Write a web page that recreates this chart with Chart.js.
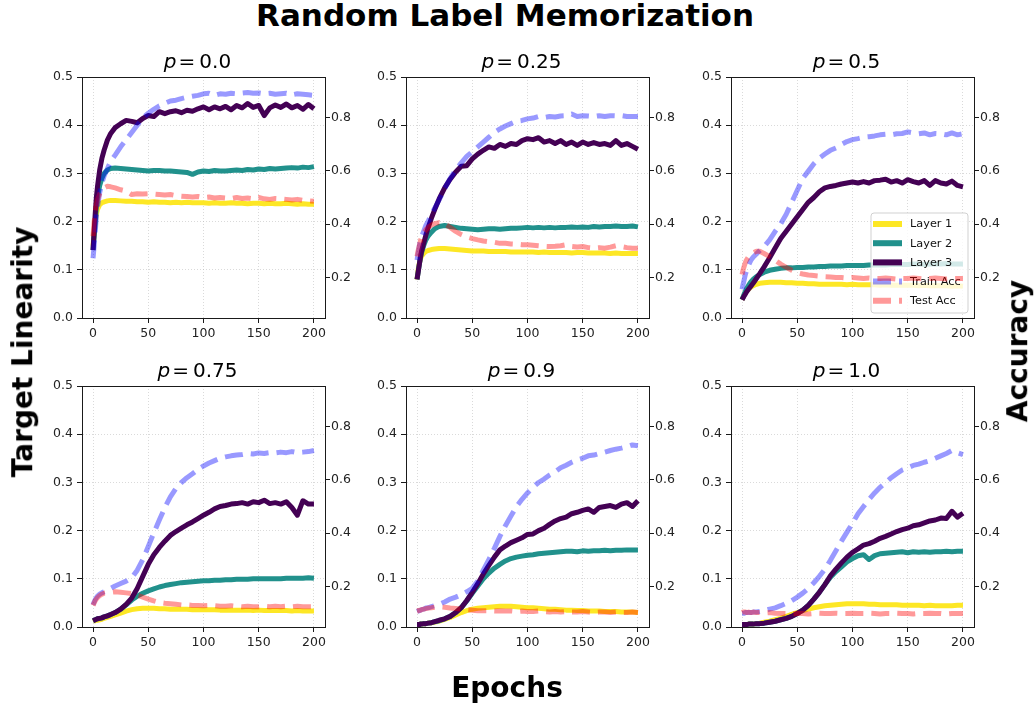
<!DOCTYPE html>
<html>
<head>
<meta charset="utf-8">
<script src="https://cdn.jsdelivr.net/npm/chart.js@4.4.1/dist/chart.umd.min.js"></script>
<style>
  body { margin: 0; background: #fff; }
  #fig { position: relative; width: 1035px; height: 706px; overflow: hidden; font-family: 'DejaVu Sans', sans-serif; color: #000; }
  #fig canvas { position: absolute; }
  .txt { position: absolute; white-space: nowrap; line-height: 1.2; }
  .big { font-size: 28px; font-weight: bold; }
  .sub { font-size: 20px; transform: translateX(-50%); }
  .rot { transform: translate(-50%, -50%) rotate(-90deg); }
</style>
</head>
<body>
<div id="fig">
  <div class="txt" style="font-size:31px;font-weight:bold;left:505px;top:-3px;transform:translateX(-50%)">Random Label Memorization</div>
  <div class="txt big" style="left:507px;top:670.5px;transform:translateX(-50%)">Epochs</div>
  <div class="txt big rot" style="left:23.3px;top:351.5px">Target Linearity</div>
  <div class="txt big rot" style="left:1018.3px;top:351px">Accuracy</div>
</div>
<script>
// x positions of the logged epochs
var epochs = [0,1,2,3,4,6,8,10,13,16,20,
  25,30,35,40,45,50,55,60,65,70,75,80,
  85,90,95,100,105,110,115,120,125,130,135,140,
  145,150,155,160,165,170,175,180,185,190,195,200];

var pLabels = ['0.0', '0.25', '0.5', '0.75', '0.9', '1.0'];
var seriesNames = ['Layer 1', 'Layer 2', 'Layer 3', 'Train Acc', 'Test Acc'];
var linTicks = [0, 0.1, 0.2, 0.3, 0.4, 0.5];
var accTicks = [0.2, 0.4, 0.6, 0.8];
var epochTicks = [0, 50, 100, 150, 200];

// p = 0.0
var l1_p00 = [0.150,0.175,0.200,0.215,0.225,0.235,0.239,0.241,0.243,0.244,0.244,
  0.243,0.242,0.242,0.241,0.241,0.240,0.241,0.240,0.240,0.239,0.240,0.239,
  0.240,0.239,0.239,0.239,0.238,0.239,0.238,0.238,0.239,0.238,0.238,0.237,
  0.238,0.238,0.237,0.238,0.237,0.237,0.238,0.237,0.236,0.237,0.236,0.236];
var l2_p00 = [0.141,0.170,0.200,0.230,0.250,0.275,0.290,0.300,0.307,0.310,0.311,
  0.310,0.309,0.308,0.307,0.306,0.305,0.306,0.306,0.305,0.305,0.304,0.303,
  0.302,0.298,0.303,0.305,0.304,0.306,0.305,0.305,0.306,0.307,0.306,0.308,
  0.307,0.309,0.308,0.310,0.309,0.310,0.311,0.312,0.311,0.313,0.312,0.314];
var l3_p00 = [0.141,0.180,0.217,0.250,0.272,0.307,0.331,0.348,0.369,0.383,0.395,
  0.403,0.410,0.408,0.405,0.414,0.420,0.418,0.428,0.424,0.428,0.430,0.426,
  0.431,0.429,0.434,0.438,0.432,0.438,0.434,0.439,0.432,0.441,0.436,0.445,
  0.437,0.441,0.420,0.436,0.442,0.437,0.444,0.436,0.441,0.433,0.443,0.434];
var train_p00 = [0.272,0.319,0.373,0.428,0.464,0.518,0.554,0.581,0.608,0.636,0.659,
  0.690,0.717,0.744,0.771,0.798,0.816,0.831,0.844,0.853,0.862,0.865,0.871,
  0.876,0.880,0.883,0.889,0.891,0.883,0.889,0.887,0.891,0.889,0.892,0.894,
  0.891,0.892,0.889,0.891,0.887,0.889,0.891,0.885,0.889,0.887,0.885,0.883];
var test_p00 = [0.355,0.410,0.446,0.473,0.491,0.514,0.527,0.536,0.542,0.540,0.536,
  0.529,0.524,0.511,0.514,0.513,0.514,0.513,0.511,0.509,0.511,0.507,0.505,
  0.504,0.502,0.504,0.500,0.502,0.498,0.500,0.498,0.496,0.500,0.496,0.498,
  0.495,0.500,0.495,0.493,0.496,0.495,0.493,0.491,0.493,0.489,0.487,0.486];

// p = 0.25
var l1_p25 = [0.080,0.100,0.113,0.122,0.128,0.134,0.138,0.140,0.142,0.143,0.144,
  0.144,0.143,0.142,0.141,0.140,0.139,0.139,0.139,0.138,0.138,0.138,0.138,
  0.137,0.137,0.137,0.137,0.137,0.136,0.137,0.136,0.136,0.136,0.136,0.135,
  0.136,0.136,0.135,0.135,0.135,0.135,0.134,0.135,0.134,0.134,0.134,0.134];
var l2_p25 = [0.080,0.095,0.110,0.124,0.135,0.150,0.162,0.170,0.178,0.185,0.190,
  0.192,0.190,0.188,0.186,0.185,0.184,0.183,0.184,0.185,0.185,0.184,0.185,
  0.186,0.186,0.187,0.188,0.187,0.188,0.187,0.188,0.187,0.188,0.188,0.189,
  0.188,0.189,0.188,0.190,0.189,0.190,0.190,0.191,0.190,0.190,0.191,0.189];
var l3_p25 = [0.080,0.095,0.110,0.125,0.138,0.155,0.172,0.187,0.207,0.225,0.247,
  0.270,0.288,0.303,0.315,0.316,0.330,0.340,0.348,0.355,0.352,0.360,0.356,
  0.362,0.360,0.368,0.372,0.370,0.374,0.365,0.368,0.362,0.368,0.360,0.365,
  0.358,0.365,0.360,0.364,0.360,0.362,0.358,0.368,0.358,0.362,0.356,0.350];
var train_p25 = [0.265,0.292,0.316,0.337,0.352,0.373,0.395,0.410,0.437,0.460,0.491,
  0.533,0.572,0.603,0.630,0.654,0.672,0.690,0.708,0.726,0.744,0.757,0.768,
  0.777,0.786,0.789,0.795,0.798,0.804,0.800,0.804,0.802,0.806,0.807,0.813,
  0.804,0.807,0.806,0.804,0.807,0.804,0.807,0.806,0.807,0.804,0.804,0.804];
var test_p25 = [0.279,0.301,0.319,0.337,0.350,0.366,0.379,0.388,0.397,0.402,0.406,
  0.401,0.388,0.373,0.361,0.352,0.346,0.341,0.337,0.334,0.332,0.328,0.328,
  0.326,0.325,0.323,0.323,0.321,0.319,0.317,0.316,0.317,0.319,0.323,0.316,
  0.314,0.316,0.312,0.310,0.312,0.310,0.314,0.319,0.316,0.312,0.310,0.310];

// p = 0.5
var l1_p50 = [0.038,0.043,0.048,0.052,0.055,0.060,0.064,0.067,0.070,0.072,0.073,
  0.074,0.074,0.074,0.073,0.073,0.072,0.072,0.071,0.071,0.070,0.070,0.070,
  0.070,0.070,0.069,0.070,0.069,0.069,0.069,0.069,0.068,0.069,0.068,0.068,
  0.068,0.068,0.068,0.067,0.068,0.067,0.067,0.067,0.067,0.066,0.067,0.066];
var l2_p50 = [0.038,0.044,0.050,0.055,0.060,0.068,0.075,0.080,0.086,0.090,0.095,
  0.099,0.101,0.103,0.104,0.104,0.105,0.105,0.106,0.106,0.107,0.107,0.108,
  0.108,0.108,0.109,0.109,0.109,0.109,0.110,0.110,0.110,0.110,0.111,0.111,
  0.111,0.111,0.112,0.112,0.111,0.112,0.112,0.112,0.113,0.112,0.112,0.112];
var l3_p50 = [0.038,0.042,0.046,0.050,0.054,0.060,0.066,0.072,0.082,0.092,0.106,
  0.125,0.145,0.165,0.180,0.195,0.210,0.225,0.240,0.250,0.262,0.270,0.273,
  0.275,0.278,0.280,0.282,0.280,0.283,0.280,0.285,0.286,0.288,0.282,0.285,
  0.280,0.287,0.283,0.280,0.285,0.275,0.285,0.280,0.278,0.284,0.275,0.272];
var train_p50 = [0.156,0.175,0.193,0.211,0.225,0.247,0.265,0.276,0.288,0.301,0.316,
  0.341,0.373,0.401,0.437,0.482,0.527,0.572,0.599,0.627,0.648,0.663,0.677,
  0.686,0.699,0.710,0.717,0.721,0.726,0.728,0.731,0.735,0.737,0.735,0.739,
  0.740,0.746,0.742,0.739,0.742,0.735,0.740,0.739,0.735,0.742,0.735,0.739];
var test_p50 = [0.211,0.229,0.243,0.256,0.265,0.278,0.287,0.292,0.298,0.298,0.290,
  0.278,0.265,0.250,0.238,0.227,0.218,0.213,0.209,0.207,0.205,0.203,0.202,
  0.200,0.200,0.198,0.200,0.198,0.196,0.198,0.196,0.196,0.198,0.196,0.194,
  0.196,0.196,0.198,0.196,0.194,0.196,0.198,0.196,0.194,0.196,0.196,0.196];

// p = 0.75
var l1_p75 = [0.012,0.013,0.013,0.014,0.014,0.015,0.016,0.018,0.020,0.022,0.025,
  0.029,0.033,0.036,0.038,0.039,0.039,0.039,0.038,0.038,0.037,0.037,0.037,
  0.037,0.036,0.036,0.036,0.036,0.036,0.035,0.035,0.035,0.035,0.035,0.035,
  0.034,0.035,0.034,0.034,0.034,0.034,0.034,0.033,0.034,0.033,0.033,0.033];
var l2_p75 = [0.013,0.014,0.015,0.016,0.017,0.018,0.019,0.021,0.023,0.026,0.030,
  0.037,0.046,0.056,0.064,0.070,0.075,0.079,0.083,0.086,0.088,0.090,0.092,
  0.093,0.094,0.095,0.096,0.096,0.097,0.097,0.098,0.098,0.099,0.099,0.099,
  0.100,0.100,0.100,0.100,0.100,0.100,0.101,0.101,0.101,0.101,0.102,0.101];
var l3_p75 = [0.013,0.014,0.015,0.016,0.017,0.018,0.019,0.021,0.023,0.026,0.030,
  0.037,0.047,0.060,0.080,0.105,0.130,0.150,0.165,0.178,0.190,0.198,0.205,
  0.212,0.218,0.225,0.232,0.238,0.245,0.250,0.252,0.255,0.256,0.258,0.255,
  0.260,0.258,0.263,0.256,0.258,0.255,0.260,0.248,0.232,0.262,0.255,0.255];
var train_p75 = [0.131,0.142,0.151,0.158,0.164,0.171,0.176,0.180,0.187,0.193,0.202,
  0.211,0.220,0.232,0.261,0.301,0.350,0.401,0.449,0.496,0.536,0.567,0.590,
  0.608,0.623,0.639,0.652,0.663,0.672,0.681,0.686,0.690,0.693,0.695,0.699,
  0.697,0.701,0.699,0.702,0.701,0.704,0.702,0.706,0.702,0.704,0.706,0.710];
var test_p75 = [0.129,0.138,0.147,0.153,0.158,0.166,0.171,0.175,0.176,0.178,0.180,
  0.178,0.176,0.173,0.167,0.160,0.153,0.146,0.140,0.137,0.135,0.133,0.131,
  0.131,0.129,0.129,0.128,0.129,0.128,0.126,0.126,0.128,0.126,0.124,0.126,
  0.124,0.124,0.126,0.124,0.126,0.124,0.126,0.124,0.126,0.124,0.124,0.124];

// p = 0.9
var l1_p90 = [0.005,0.005,0.005,0.006,0.006,0.007,0.007,0.008,0.009,0.010,0.012,
  0.016,0.020,0.025,0.030,0.034,0.037,0.039,0.040,0.041,0.042,0.043,0.043,
  0.043,0.042,0.041,0.040,0.040,0.039,0.038,0.037,0.037,0.036,0.035,0.035,
  0.034,0.034,0.033,0.033,0.033,0.032,0.032,0.032,0.031,0.031,0.031,0.030];
var l2_p90 = [0.005,0.005,0.005,0.006,0.006,0.007,0.007,0.008,0.009,0.011,0.013,
  0.017,0.022,0.030,0.040,0.054,0.070,0.085,0.100,0.112,0.122,0.130,0.137,
  0.142,0.145,0.147,0.149,0.150,0.152,0.153,0.154,0.155,0.156,0.157,0.157,
  0.156,0.158,0.157,0.158,0.158,0.159,0.158,0.159,0.159,0.160,0.160,0.160];
var l3_p90 = [0.005,0.005,0.005,0.006,0.006,0.007,0.007,0.008,0.009,0.011,0.014,
  0.017,0.022,0.030,0.040,0.055,0.072,0.090,0.110,0.128,0.145,0.160,0.168,
  0.175,0.180,0.185,0.192,0.193,0.200,0.205,0.213,0.220,0.225,0.228,0.235,
  0.238,0.242,0.245,0.238,0.248,0.250,0.252,0.248,0.255,0.258,0.250,0.262];
var train_p90 = [0.106,0.108,0.109,0.111,0.113,0.115,0.119,0.120,0.124,0.128,0.133,
  0.142,0.153,0.160,0.169,0.180,0.193,0.220,0.261,0.301,0.343,0.388,0.428,
  0.464,0.500,0.527,0.551,0.572,0.590,0.603,0.618,0.630,0.645,0.655,0.666,
  0.675,0.681,0.690,0.693,0.699,0.704,0.710,0.715,0.719,0.724,0.731,0.728];
var test_p90 = [0.108,0.109,0.111,0.111,0.113,0.115,0.117,0.119,0.120,0.122,0.124,
  0.122,0.119,0.117,0.115,0.113,0.111,0.109,0.109,0.109,0.108,0.109,0.108,
  0.108,0.106,0.108,0.106,0.106,0.108,0.106,0.104,0.106,0.104,0.106,0.104,
  0.104,0.106,0.104,0.102,0.104,0.104,0.102,0.104,0.102,0.102,0.104,0.102];

// p = 1.0
var l1_p100 = [0.005,0.005,0.005,0.005,0.005,0.006,0.006,0.006,0.007,0.008,0.010,
  0.012,0.015,0.018,0.022,0.026,0.030,0.034,0.037,0.040,0.042,0.044,0.045,
  0.046,0.047,0.048,0.048,0.048,0.048,0.047,0.047,0.046,0.046,0.046,0.046,
  0.045,0.045,0.045,0.045,0.044,0.045,0.044,0.044,0.044,0.044,0.045,0.045];
var l2_p100 = [0.005,0.005,0.005,0.005,0.005,0.006,0.006,0.006,0.007,0.007,0.008,
  0.010,0.012,0.015,0.018,0.022,0.028,0.035,0.045,0.058,0.072,0.088,0.103,
  0.115,0.125,0.135,0.142,0.148,0.150,0.140,0.148,0.152,0.153,0.154,0.155,
  0.156,0.154,0.156,0.155,0.156,0.155,0.156,0.156,0.157,0.156,0.157,0.157];
var l3_p100 = [0.005,0.005,0.005,0.005,0.005,0.006,0.006,0.006,0.007,0.007,0.008,
  0.010,0.012,0.015,0.018,0.022,0.028,0.035,0.045,0.058,0.072,0.088,0.106,
  0.120,0.133,0.145,0.155,0.162,0.170,0.173,0.178,0.184,0.188,0.193,0.198,
  0.202,0.205,0.210,0.212,0.216,0.220,0.222,0.226,0.225,0.240,0.228,0.236];
var train_p100 = [0.100,0.100,0.100,0.102,0.102,0.102,0.102,0.104,0.104,0.106,0.109,
  0.115,0.120,0.128,0.137,0.147,0.160,0.175,0.193,0.214,0.238,0.265,0.298,
  0.334,0.370,0.404,0.437,0.473,0.500,0.527,0.551,0.572,0.590,0.608,0.623,
  0.637,0.645,0.654,0.659,0.666,0.672,0.681,0.690,0.699,0.710,0.702,0.695];
var test_p100 = [0.102,0.104,0.104,0.104,0.102,0.104,0.102,0.104,0.102,0.102,0.100,
  0.102,0.100,0.099,0.099,0.097,0.099,0.099,0.097,0.099,0.100,0.099,0.099,
  0.100,0.099,0.099,0.100,0.099,0.099,0.100,0.099,0.097,0.099,0.099,0.100,
  0.099,0.099,0.097,0.099,0.099,0.100,0.099,0.099,0.097,0.099,0.099,0.099];

var panels = [
  [l1_p00, l2_p00, l3_p00, train_p00, test_p00],
  [l1_p25, l2_p25, l3_p25, train_p25, test_p25],
  [l1_p50, l2_p50, l3_p50, train_p50, test_p50],
  [l1_p75, l2_p75, l3_p75, train_p75, test_p75],
  [l1_p90, l2_p90, l3_p90, train_p90, test_p90],
  [l1_p100, l2_p100, l3_p100, train_p100, test_p100]
];

// look of each series
var lineColors = ['#fde725', '#21918c', '#440154', 'rgba(0,0,255,0.4)', 'rgba(255,0,0,0.4)'];
var lineDash = [[], [], [], [18, 8], [18, 8]];
var drawOrder = [5, 4, 3, 2, 1];

var PLOT_W = 243, PLOT_H = 241;
var PAD_L = 60, PAD_R = 60, PAD_T = 12, PAD_B = 40;
var colLeft = [82, 406, 731];
var rowTop = [77, 386];
var titleBase = [68.3, 377.3];

var spineColor = '#1a1a1a';
var gridColor = 'rgba(176,176,176,0.6)';
var tickFont = { family: 'DejaVu Sans', size: 12.5 };

Chart.defaults.font.family = 'DejaVu Sans';
Chart.defaults.color = '#222';

// legend drawn below the accuracy lines, like the twin axes in matplotlib
var legendBox = {
    id: 'legendBox',
    beforeDatasetDraw(chart, args, opts) {
        if (!opts.show) return;
        if (chart.data.datasets[args.index].label !== 'Train Acc') return;
        var ctx = chart.ctx;
        var area = chart.chartArea;
        var w = 97, h = 100;
        var x = area.right - 6 - w;
        var y = area.bottom - 5 - h;
        ctx.save();
        ctx.beginPath();
        ctx.roundRect(x, y, w, h, 3);
        ctx.fillStyle = 'rgba(255,255,255,0.8)';
        ctx.fill();
        ctx.strokeStyle = 'rgba(204,204,204,0.9)';
        ctx.lineWidth = 1;
        ctx.stroke();
        ctx.font = '11.3px "DejaVu Sans"';
        ctx.textBaseline = 'middle';
        chart.data.datasets.forEach(function(ds, i) {
            var cy = y + 11 + i * 19.2;
            ctx.beginPath();
            ctx.setLineDash(ds.borderDash);
            ctx.strokeStyle = ds.borderColor;
            ctx.lineWidth = 6;
            ctx.moveTo(x + 2, cy);
            ctx.lineTo(x + 31, cy);
            ctx.stroke();
            ctx.setLineDash([]);
            ctx.fillStyle = '#111';
            ctx.fillText(ds.label, x + 39, cy + 0.5);
        });
        ctx.restore();
    }
};

function fixedTicks(list) {
    return function(axis) {
        axis.ticks = list.map(function(v) { return { value: v }; });
    };
}

function hideEdgeGrid(ctx) {
    if (ctx.tick && (ctx.tick.value === 0 || ctx.tick.value === 0.5)) return 'rgba(0,0,0,0)';
    return gridColor;
}

var fig = document.getElementById('fig');

function makePanel(idx) {
    var col = idx % 3, row = Math.floor(idx / 3);
    var W = PLOT_W + PAD_L + PAD_R, H = PLOT_H + PAD_T + PAD_B;

    var canvas = document.createElement('canvas');
    canvas.width = W;
    canvas.height = H;
    canvas.style.width = W + 'px';
    canvas.style.height = H + 'px';
    canvas.style.left = (colLeft[col] - PAD_L) + 'px';
    canvas.style.top = (rowTop[row] - PAD_T) + 'px';
    fig.insertBefore(canvas, fig.firstChild);

    var title = document.createElement('div');
    title.className = 'txt sub';
    title.innerHTML = '<i>p</i><span style="margin:0 4px 0 2px">=</span>' + pLabels[idx];
    title.style.left = (colLeft[col] + PLOT_W / 2 - 6) + 'px';
    title.style.top = (titleBase[row] - 0.946 * 20) + 'px';
    fig.appendChild(title);

    var values = panels[idx];
    var datasets = seriesNames.map(function(name, s) {
        return {
            label: name,
            data: epochs.map(function(e, k) { return { x: e, y: values[s][k] }; }),
            yAxisID: s < 3 ? 'y' : 'y2',
            borderColor: lineColors[s],
            borderWidth: 5,
            borderDash: lineDash[s],
            borderJoinStyle: 'round',
            order: drawOrder[s],
            pointRadius: 0,
            tension: 0,
            fill: false,
            clip: 0
        };
    });

    new Chart(canvas, {
        type: 'line',
        data: { datasets: datasets },
        plugins: [legendBox],
        options: {
            responsive: false,
            animation: false,
            devicePixelRatio: 1,
            events: [],
            layout: { padding: 0, autoPadding: false },
            plugins: {
                legend: { display: false },
                tooltip: { enabled: false },
                legendBox: { show: idx === 2 }
            },
            scales: {
                x: {
                    type: 'linear', position: 'bottom', min: -10, max: 210,
                    afterBuildTicks: fixedTicks(epochTicks),
                    afterFit: function(ax) { ax.height = PAD_B; },
                    ticks: { font: tickFont, color: '#222', padding: 3, maxRotation: 0, autoSkip: false,
                             callback: function(v) { return String(v); } },
                    grid: { color: gridColor, lineWidth: 0.8, tickLength: 5, tickColor: spineColor,
                            tickWidth: 1, tickBorderDash: [] },
                    border: { color: spineColor, width: 1, dash: [1, 2], z: 1 }
                },
                xTop: {
                    type: 'linear', position: 'top', min: -10, max: 210,
                    afterFit: function(ax) { ax.height = PAD_T; },
                    ticks: { display: false },
                    grid: { display: false, drawTicks: false },
                    border: { color: spineColor, width: 1, z: 1 }
                },
                y: {
                    type: 'linear', position: 'left', min: 0, max: 0.5,
                    afterBuildTicks: fixedTicks(linTicks),
                    afterFit: function(ax) { ax.width = PAD_L; },
                    ticks: { font: tickFont, color: '#222', padding: 4,
                             callback: function(v) { return v.toFixed(1); } },
                    grid: { color: hideEdgeGrid, lineWidth: 0.8, tickLength: 5, tickColor: spineColor,
                            tickWidth: 1, tickBorderDash: [] },
                    border: { color: spineColor, width: 1, dash: [1, 2], z: 1 }
                },
                y2: {
                    type: 'linear', position: 'right', min: 0.048, max: 0.952,
                    afterBuildTicks: fixedTicks(accTicks),
                    afterFit: function(ax) { ax.width = PAD_R; },
                    ticks: { font: tickFont, color: '#222', padding: 1,
                             callback: function(v) { return v.toFixed(1); } },
                    grid: { drawOnChartArea: false, tickLength: 5, tickColor: spineColor, tickWidth: 1 },
                    border: { color: spineColor, width: 1, z: 1 }
                }
            }
        }
    });
}

for (var i = 0; i < panels.length; i++) {
    makePanel(i);
}
</script>
</body>
</html>
